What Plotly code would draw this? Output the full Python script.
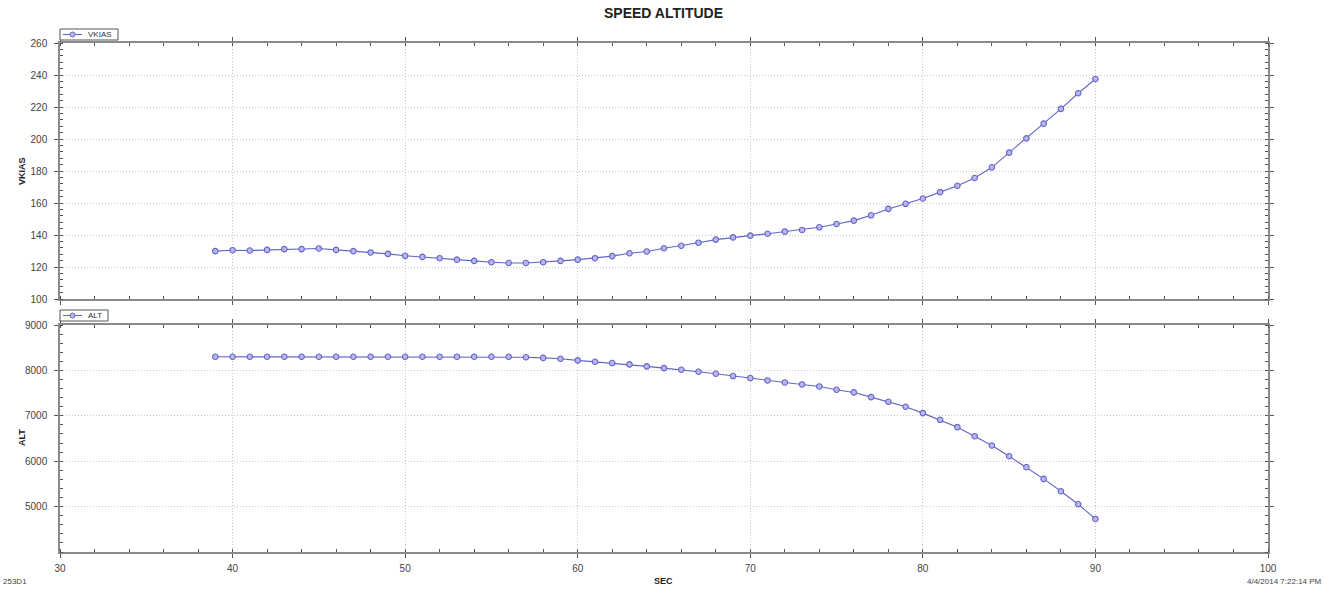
import plotly.graph_objects as go

sec = list(range(39, 91))
vkias = [129.9, 130.5, 130.3, 130.7, 131.2, 131.2, 131.6, 130.7, 129.9, 129.1,
         128.2, 127.0, 126.3, 125.5, 124.6, 123.8, 123.0, 122.5, 122.5, 123.0,
         123.8, 124.6, 125.5, 126.8, 128.6, 129.7, 131.7, 133.3, 135.2, 137.1,
         138.5, 139.6, 140.8, 142.1, 143.1, 144.8, 146.9, 149.0, 152.3, 156.3,
         159.5, 162.8, 166.8, 170.8, 175.6, 182.3, 191.5, 200.4, 209.6, 218.8,
         228.6, 237.5]
alt = [8300] * 18 + [8290, 8275, 8257, 8221, 8191, 8162, 8132, 8088, 8051, 8015,
                     7971, 7926, 7875, 7831, 7779, 7735, 7691, 7647, 7574, 7515,
                     7412, 7309, 7199, 7059, 6912, 6750, 6551, 6346, 6110, 5868,
                     5610, 5338, 5051, 4728]

W, H = 1325, 589
def px(x): return x / W
def py(y): return 1 - y / H

LINE = "#6464c8"
MFILL = "#b8b8ee"
FONT = "Liberation Sans, Arial, sans-serif"

marker = dict(symbol="circle", size=5.5, color=MFILL, line=dict(color=LINE, width=1.1))
fig = go.Figure()
fig.add_trace(go.Scatter(x=sec, y=vkias, name="VKIAS", mode="lines+markers",
                         xaxis="x2", yaxis="y2",
                         line=dict(color=LINE, width=1.1), marker=marker))
fig.add_trace(go.Scatter(x=sec, y=alt, name="ALT", mode="lines+markers",
                         xaxis="x", yaxis="y",
                         line=dict(color=LINE, width=1.1), marker=marker))

xd = [px(60), px(1268)]
common_axis = dict(showline=True, linecolor="#8a8a8a", linewidth=1.5, mirror="allticks",
                   ticks="outside", ticklen=4, tickcolor="#555", tickwidth=1,
                   showgrid=True, gridcolor="#c8c8c8", griddash="1px,2px", gridwidth=1,
                   zeroline=False, automargin=False,
                   tickfont=dict(family=FONT, size=10, color="#444"))
minor = dict(ticks="inside", ticklen=3, tickcolor="#555", showgrid=False)

fig.update_layout(
    width=W, height=H, margin=dict(l=0, r=0, t=0, b=0, autoexpand=False),
    paper_bgcolor="white", plot_bgcolor="white",
    font=dict(family=FONT, size=10, color="#333"),
    showlegend=False,
    xaxis=dict(domain=xd, anchor="y", range=[30, 100], dtick=10, tick0=30,
               ticklabelstandoff=2,
               minor=dict(dtick=2, tick0=30, **minor), **common_axis),
    yaxis=dict(domain=[py(552), py(325)], anchor="x", range=[4000, 9000],
               tickmode="array", tickvals=[5000, 6000, 7000, 8000, 9000],
               ticklabelstandoff=5,
               minor=dict(tickmode="array", tickvals=list(range(4000, 9001, 200)), **minor),
               **common_axis),
    xaxis2=dict(domain=xd, anchor="y2", range=[30, 100], dtick=10, tick0=30,
                showticklabels=False,
                minor=dict(dtick=2, tick0=30, **minor), **common_axis),
    yaxis2=dict(domain=[py(299), py(43)], anchor="x2", range=[100, 260], dtick=20, tick0=100,
                ticklabelstandoff=5,
                minor=dict(dtick=4, tick0=100, **minor), **common_axis),
)

ann = [
    dict(text="<b>SPEED ALTITUDE</b>", x=px(663), y=py(13), font=dict(size=14, color="#222")),
    dict(text="<b>VKIAS</b>", x=px(22), y=py(171), textangle=-90, font=dict(size=9, color="#222")),
    dict(text="<b>ALT</b>", x=px(22), y=py(438), textangle=-90, font=dict(size=9, color="#222")),
    dict(text="<b>SEC</b>", x=px(663), y=py(581), font=dict(size=9, color="#222")),
    dict(text="253D1", x=px(1), y=py(581), xanchor="left", font=dict(size=8, color="#444")),
    dict(text="4/4/2014 7:22:14 PM", x=px(1324), y=py(581), xanchor="right", font=dict(size=8, color="#444")),
]

# compact legend boxes (top-left of each panel)
legends = [("VKIAS", 29, 118), ("ALT", 310, 108)]
for name, top, right in legends:
    fig.add_shape(type="rect", xref="paper", yref="paper",
                  x0=px(60), x1=px(right), y0=py(top + 11), y1=py(top),
                  line=dict(color="#555", width=1), fillcolor="white", layer="above")
    fig.add_shape(type="line", xref="paper", yref="paper",
                  x0=px(63), x1=px(82), y0=py(top + 5.5), y1=py(top + 5.5),
                  line=dict(color=LINE, width=1.1), layer="above")
    fig.add_shape(type="circle", xref="paper", yref="paper",
                  x0=px(70), x1=px(75), y0=py(top + 8), y1=py(top + 3),
                  line=dict(color=LINE, width=1), fillcolor=MFILL, layer="above")
    ann.append(dict(text=name, x=px(86), y=py(top + 5.5), xanchor="left",
                    font=dict(size=8, color="#333")))

for a in ann:
    a.setdefault("xanchor", "center")
    f = a.pop("font")
    fig.add_annotation(xref="paper", yref="paper", showarrow=False, yanchor="middle",
                       font=dict(family=FONT, **f), **a)

fig.write_html("out.html")
